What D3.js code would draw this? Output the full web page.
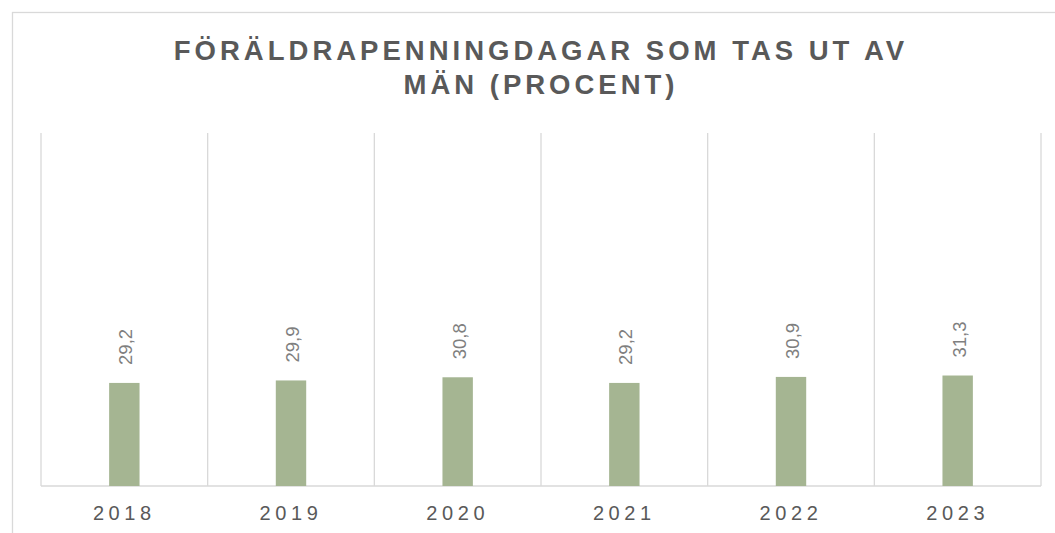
<!DOCTYPE html>
<html><head><meta charset="utf-8">
<script src="https://cdn.jsdelivr.net/npm/d3@7"></script>
<style>body{margin:0;background:#fff}svg{display:block}</style>
</head><body>
<svg id="c" width="1055" height="533"></svg>
<script>
const categories = ["2018","2019","2020","2021","2022","2023"];
const values = [29.2, 29.9, 30.8, 29.2, 30.9, 31.3];
const valueLabels = ["29,2","29,9","30,8","29,2","30,9","31,3"];
const titleLines = ["FÖRÄLDRAPENNINGDAGAR SOM TAS UT AV", "MÄN (PROCENT)"];

const svg = d3.select("#c");
const font = "'Liberation Sans', Arial, sans-serif";
const m = {left: 41, right: 1041, top: 133, bottom: 486};

svg.append("rect").attr("x",12.5).attr("y",12.5).attr("width",1100).attr("height",600)
  .attr("fill","#fff").attr("stroke","#d9d9d9").attr("stroke-width",1.3);

const x = d3.scaleBand().domain(categories).range([m.left, m.right]).paddingInner(0).paddingOuter(0);
const y = d3.scaleLinear().domain([0,100]).range([m.bottom, m.top]);

// vertical gridlines at category boundaries
const bounds = categories.map(c => x(c)).concat([x(categories[categories.length-1]) + x.bandwidth()]);
svg.append("g").selectAll("line").data(bounds).join("line")
  .attr("x1", d=>d).attr("x2", d=>d).attr("y1", y(100)).attr("y2", y(0))
  .attr("stroke","#d9d9d9").attr("stroke-width",1.3);

// baseline
svg.append("line").attr("x1",m.left).attr("x2",m.right).attr("y1",y(0)).attr("y2",y(0))
  .attr("stroke","#d9d9d9").attr("stroke-width",1.3);

const barW = 30.4;
svg.append("g").selectAll("rect").data(values).join("rect")
  .attr("x",(d,i)=>x(categories[i]) + x.bandwidth()/2 - barW/2)
  .attr("width",barW)
  .attr("y",d=>y(d))
  .attr("height",d=>y(0)-y(d))
  .attr("fill","#a5b592");

// value labels rotated
svg.append("g").selectAll("text").data(values).join("text")
  .attr("transform",(d,i)=>`translate(${x(categories[i]) + x.bandwidth()/2 + 8},${y(d)-18}) rotate(-90)`)
  .attr("font-family",font).attr("font-size",18.5)
  .attr("fill","#7f7f7f").attr("text-anchor","start")
  .text((d,i)=>valueLabels[i]);

// x axis labels
const xAxis = d3.axisBottom(x).tickSize(0).tickPadding(0);
const gx = svg.append("g").attr("transform",`translate(0,${y(0)})`).call(xAxis);
gx.select(".domain").remove();
gx.selectAll("text").attr("y",34).attr("dy",0)
  .attr("font-family",font).attr("font-size",20).attr("letter-spacing","4.6px")
  .attr("fill","#595959");

// title
svg.append("g").selectAll("text").data(titleLines).join("text")
  .attr("x",541).attr("y",(d,i)=>59.5 + i*34)
  .attr("text-anchor","middle")
  .attr("font-family",font).attr("font-size",27.5).attr("font-weight","bold")
  .attr("letter-spacing","4px").attr("fill","#595959")
  .text(d=>d);
</script>
</body></html>
